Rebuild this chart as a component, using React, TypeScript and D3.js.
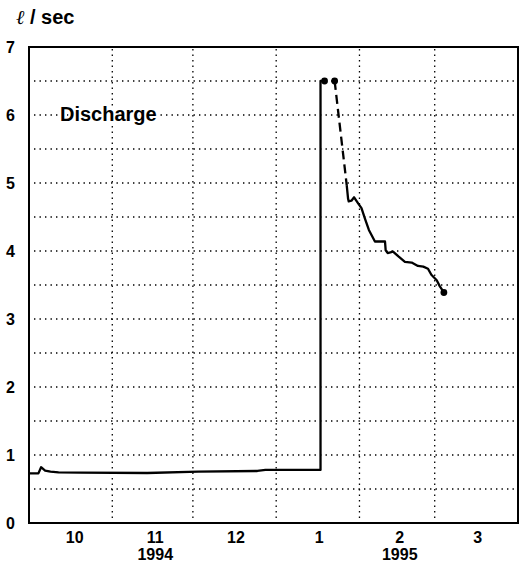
import React from "react";
import * as d3 from "d3";

const parse = d3.utcParse("%Y-%m-%d %H");

// Low-flow period, then jump to 6.5 (solid)
const series1Dates = [
  "1994-10-01 00", "1994-10-04 12", "1994-10-05 12", "1994-10-07 00", "1994-10-09 00",
  "1994-10-12 00", "1994-10-20 00", "1994-11-14 00", "1994-12-03 00", "1994-12-25 00",
  "1994-12-28 00", "1995-01-17 12", "1995-01-17 12", "1995-01-19 00",
];
const series1Values = [0.73, 0.73, 0.82, 0.77, 0.755, 0.745, 0.74, 0.735, 0.755, 0.765, 0.78, 0.78, 6.5, 6.5];

// Dashed connector (estimated)
const dashedDates = ["1995-01-22 18", "1995-01-27 06"];
const dashedValues = [6.5, 4.97];

// Recession after the peak (solid)
const series2Dates = [
  "1995-01-27 06", "1995-01-27 18", "1995-01-28 00", "1995-01-29 00", "1995-01-30 00",
  "1995-01-31 12", "1995-02-01 18", "1995-02-03 00", "1995-02-04 12", "1995-02-06 18",
  "1995-02-10 12", "1995-02-10 18", "1995-02-11 12", "1995-02-13 12", "1995-02-15 12",
  "1995-02-17 22", "1995-02-20 10", "1995-02-22 18", "1995-02-24 18", "1995-02-26 12",
  "1995-02-27 18", "1995-03-01 18", "1995-03-02 22", "1995-03-04 10",
];
const series2Values = [
  4.97, 4.77, 4.73, 4.74, 4.79, 4.7, 4.63, 4.48, 4.31, 4.14,
  4.14, 4.01, 3.97, 3.99, 3.92, 3.84, 3.83, 3.78, 3.77, 3.74,
  3.65, 3.57, 3.48, 3.39,
];

// Marked points
const markerDates = ["1995-01-19 00", "1995-01-22 18", "1995-03-04 10"];
const markerValues = [6.5, 6.5, 3.39];

// Axes
const monthBoundaries = ["1994-11-01 00", "1994-12-01 00", "1995-01-01 00", "1995-02-01 00", "1995-03-01 00"];
const monthLabels = ["10", "11", "12", "1", "2", "3"];
const monthLabelDates = ["1994-10-18 00", "1994-11-17 00", "1994-12-17 00", "1995-01-17 00", "1995-02-16 00", "1995-03-17 00"];
const yearLabels = ["1994", "1995"];
const yearLabelDates = ["1994-11-17 00", "1995-02-16 00"];
const yTicks = [0, 1, 2, 3, 4, 5, 6, 7];
const yGrid = [0.5, 1, 1.5, 2, 2.5, 3, 3.5, 4, 4.5, 5, 5.5, 6, 6.5];

const W = 523;
const H = 566;
const left = 29;
const right = 518;
const top = 47;
const bottom = 523;

export default function App() {
  const x = d3.scaleUtc()
    .domain([parse("1994-10-01 00")!, parse("1995-04-01 00")!])
    .range([left, right]);
  const y = d3.scaleLinear().domain([0, 7]).range([bottom, top]);

  const line = d3.line<[Date, number]>()
    .x((d) => x(d[0]))
    .y((d) => y(d[1]));

  const s1 = series1Dates.map((d, i) => [parse(d)!, series1Values[i]] as [Date, number]);
  const sd = dashedDates.map((d, i) => [parse(d)!, dashedValues[i]] as [Date, number]);
  const s2 = series2Dates.map((d, i) => [parse(d)!, series2Values[i]] as [Date, number]);
  const marks = markerDates.map((d, i) => [parse(d)!, markerValues[i]] as [Date, number]);

  const bold = "'Liberation Sans', Arial, sans-serif";

  return (
    <svg width={W} height={H} style={{ position: "absolute", left: 0, top: 0, background: "#fff" }}>
      <rect x={0} y={0} width={W} height={H} fill="#fff" />
      {/* grid */}
      <g stroke="#000" strokeWidth={1.3} strokeDasharray="1.4,4.1">
        {yGrid.map((v) => (
          <line key={"h" + v} x1={left + 5} x2={right - 1} y1={y(v)} y2={y(v)} />
        ))}
        {monthBoundaries.map((d) => (
          <line key={"v" + d} x1={x(parse(d)!)} x2={x(parse(d)!)} y1={top + 2} y2={bottom - 2} />
        ))}
      </g>
      {/* frame */}
      <rect x={left} y={top} width={right - left} height={bottom - top} fill="none" stroke="#000" strokeWidth={2} />

      {/* data */}
      <path d={line(s1)!} fill="none" stroke="#000" strokeWidth={2.3} strokeLinejoin="round" />
      <path d={line(sd)!} fill="none" stroke="#000" strokeWidth={2.3} strokeDasharray="9,5" />
      <path d={line(s2)!} fill="none" stroke="#000" strokeWidth={2.3} strokeLinejoin="round" />
      {marks.map((m, i) => (
        <circle key={i} cx={x(m[0])} cy={y(m[1])} r={3.4} fill="#000" />
      ))}

      {/* y tick labels */}
      {yTicks.map((v) => (
        <text key={"yt" + v} x={15} y={y(v)} dy="0.36em" textAnchor="end" fontFamily={bold} fontWeight="bold" fontSize={16}>
          {v}
        </text>
      ))}
      {/* month labels */}
      {monthLabels.map((m, i) => (
        <text key={"m" + i} x={x(parse(monthLabelDates[i])!)} y={543} textAnchor="middle" fontFamily={bold} fontWeight="bold" fontSize={16}>
          {m}
        </text>
      ))}
      {yearLabels.map((t, i) => (
        <text key={"yr" + i} x={x(parse(yearLabelDates[i])!)} y={560} textAnchor="middle" fontFamily={bold} fontWeight="bold" fontSize={16}>
          {t}
        </text>
      ))}

      {/* titles */}
      <text x={60} y={121} fontFamily={bold} fontWeight="bold" fontSize={20} style={{ paintOrder: "stroke" }} stroke="#fff" strokeWidth={4}>
        Discharge
      </text>
      <text x={16} y={24} fontFamily="'Liberation Sans Narrow', 'Liberation Sans', Arial, sans-serif" fontWeight="bold" fontSize={20}>
        <tspan fontFamily="'DejaVu Serif', serif" fontStyle="italic" fontWeight="normal">ℓ</tspan>
        <tspan> / sec</tspan>
      </text>
    </svg>
  );
}
